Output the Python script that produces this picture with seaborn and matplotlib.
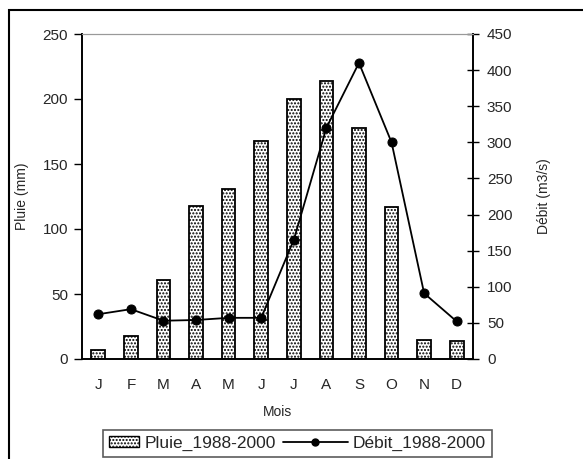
import numpy as np
import matplotlib
matplotlib.use("Agg")
import matplotlib.pyplot as plt
from matplotlib.patches import Rectangle, Patch
from matplotlib.lines import Line2D
from matplotlib.legend_handler import HandlerLine2D
import seaborn as sns

# monthly means 1988-2000
months = ["J", "F", "M", "A", "M", "J", "J", "A", "S", "O", "N", "D"]
pluie = [7, 18, 61, 118, 131, 168, 200, 214, 178, 117, 15, 14]
debit = [62, 69, 53, 54, 57, 57, 165, 320, 410, 300, 91, 52]


class LongLine(HandlerLine2D):
    # line key reaching further left than the patch key, like Excel does
    def create_artists(self, legend, orig_handle, xdescent, ydescent,
                       width, height, fontsize, trans):
        extra = 25  # points
        return super().create_artists(legend, orig_handle, xdescent + extra,
                                      ydescent, width + extra, height,
                                      fontsize, trans)


sns.set_style("white")
plt.rcParams["font.family"] = ["Liberation Sans", "DejaVu Sans"]
plt.rcParams["hatch.linewidth"] = 1.0

fig = plt.figure(figsize=(5.83, 4.59), dpi=100)
ax = fig.add_axes([82 / 583, 1 - 359 / 459, 391 / 583, 325 / 459])

pos = np.arange(len(months))
sns.barplot(x=pos, y=pluie, ax=ax, width=0.42, color="white",
            edgecolor="black", linewidth=1.3, hatch=".....", saturation=1)

ax2 = ax.twinx()
sns.lineplot(x=pos, y=debit, ax=ax2, color="black", linewidth=1.3,
             marker="o", markersize=6.5, markeredgecolor="black")

ax.set_xlim(-0.5, 11.5)
ax.set_ylim(0, 250)
ax2.set_ylim(0, 450)
ax.set_yticks(np.arange(0, 251, 50))
ax2.set_yticks(np.arange(0, 451, 50))
ax.set_xticks(pos, months)
ax.set_xticks(np.arange(-0.5, 12, 1), minor=True)

ax.tick_params(axis="x", which="major", length=0, pad=14, labelsize=11)
ax.tick_params(axis="x", which="minor", length=5, width=1, direction="out", color="black")
ax.tick_params(axis="y", length=6, width=1, direction="out", color="black", labelsize=11, pad=4)
ax2.tick_params(axis="y", length=8, width=1, direction="inout", color="black", labelsize=11, pad=6)

for a in (ax, ax2):
    a.spines["top"].set_color("#999999")
    a.spines["top"].set_linewidth(0.8)
    for s in ("left", "right", "bottom"):
        a.spines[s].set_color("black")
        a.spines[s].set_linewidth(1.2)

ax.set_xlabel("Mois", fontsize=10, labelpad=9)
ax.set_ylabel("Pluie (mm)", fontsize=10, labelpad=10)
ax2.set_ylabel("Débit (m3/s)", fontsize=10, labelpad=18)

bar_key = Patch(facecolor="white", edgecolor="black", hatch=".....", linewidth=1)
line_key = Line2D([], [], color="black", linewidth=1.3, marker="o", markersize=5)
leg = fig.legend([bar_key, line_key], ["Pluie_1988-2000", "Débit_1988-2000"],
                 handler_map={line_key: LongLine()},
                 loc="upper left", bbox_to_anchor=(103 / 583, 1 - 430 / 459),
                 ncol=2, frameon=True, fancybox=False, fontsize=12.5,
                 handlelength=1.73, handleheight=0.6, handletextpad=0.29,
                 columnspacing=2.42, borderpad=0.35, borderaxespad=0)
leg.get_frame().set_edgecolor("#333333")
leg.get_frame().set_linewidth(1.2)

fig.add_artist(Rectangle((8.5 / 583, -0.1), 1.0, 1.1 - 10.5 / 459,
                         transform=fig.transFigure, fill=False,
                         edgecolor="black", linewidth=1.5, clip_on=False))

fig.savefig("out.png", dpi=100)
